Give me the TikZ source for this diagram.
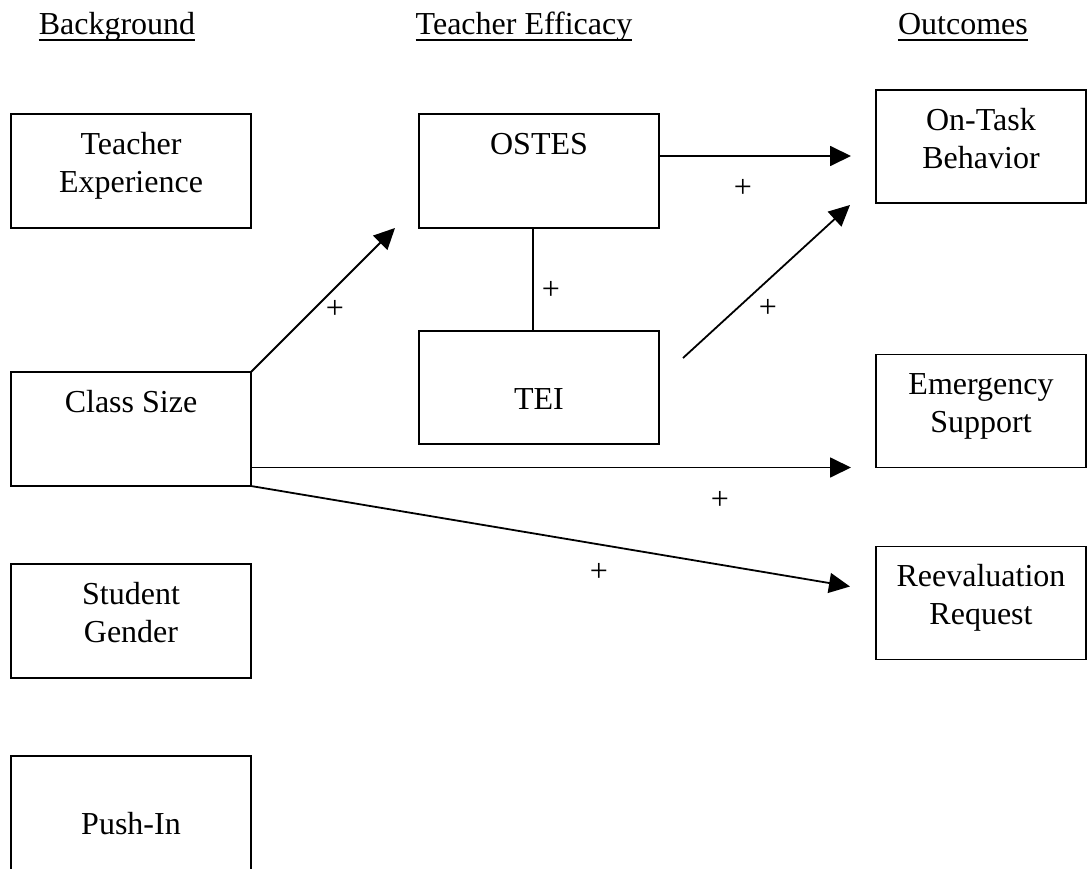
\documentclass[tikz,border=0pt]{standalone}
\usepackage{fontspec}
\setmainfont{Liberation Serif}
\usetikzlibrary{arrows.meta,calc}
\newcommand{\TT}{\rule{0pt}{24pt}}
\begin{document}
\begin{tikzpicture}[x=1pt,y=-1pt,
  every node/.style={font=\fontsize{32}{38}\selectfont},
  box/.style={draw, line width=1.8pt, minimum width=240pt, minimum height=114pt, inner sep=0pt, outer sep=0pt},
  rbox/.style={box, minimum width=210pt, minimum height=113pt},
  lab/.style={anchor=north, yshift=-16pt, inner sep=0pt, align=center},
  arr/.style={line width=1.8pt, -{Triangle[length=21pt,width=20pt]}},
  plain/.style={line width=1.8pt},
  plus/.style={inner sep=0pt},
  head/.style={anchor=base, inner sep=0pt},
  uline/.style={line width=2.4pt}]
\fill[white] (0,0) rectangle (1087,869);
\useasboundingbox (0,0) rectangle (1087,869);

% headings
\node[head] (hb) at (117,35) {Background};
\node[head] (ht) at (524,35) {Teacher Efficacy};
\node[head] (hout) at (963,35) {Outcomes};
\draw[uline] ($(hb.base west)+(0,5)$) -- ($(hb.base east)+(0,5)$);
\draw[uline] ($(ht.base west)+(0,5)$) -- ($(ht.base east)+(0,5)$);
\draw[uline] ($(hout.base west)+(0,5)$) -- ($(hout.base east)+(0,5)$);

% background boxes
\node[box, label={[lab]north:{\TT Teacher\\Experience}}] (te) at (131,171) {};
\node[box, label={[lab]north:{\TT Class Size}}] (cs) at (131,429) {};
\node[box, label={[lab]north:{\TT Student\\Gender}}] (sg) at (131,621) {};
\node[box, label={[lab]north:{\TT\\Push-In}}] (pi) at (131,813) {};

% teacher efficacy boxes
\node[box, label={[lab]north:{\TT OSTES}}] (os) at (539,171) {};
\node[box, minimum height=113pt, label={[lab]north:{\TT\\TEI}}] (tei) at (539,387.5) {};

% outcome boxes
\node[rbox, label={[lab]north:{\TT On-Task\\Behavior}}] (ot) at (981,146.5) {};
\node[rbox, label={[lab]north:{\TT Emergency\\Support}}] (es) at (981,411) {};
\node[rbox, label={[lab]north:{\TT Reevaluation\\Request}}] (rr) at (981,603) {};

% connectors
\draw[arr] (cs.north east) -- ($(os.south west)+(-24,0)$);
\draw[arr] ($(os.north east)+(0,42)$) -- ($(ot.north west)+(-25,66)$);
\draw[plain] ($(os.south)+(-6,0)$) -- ($(tei.north)+(-6,0)$);
\draw[arr] ($(tei.north east)+(24,27)$) -- ($(ot.south west)+(-26,2)$);
\draw[arr] (cs.east |- es.south west) -- ($(es.south west)+(-25,0)$);
\draw[arr] (cs.south east) -- ($(rr.north west)+(-26,40)$);

% signs
\node[plus] (p1) at (335,309) {+};
\node[plus] (p2) at (551,290) {+};
\node[plus] (p3) at (743,188) {+};
\node[plus] (p4) at (768,308) {+};
\node[plus] (p5) at (720,500) {+};
\node[plus] (p6) at (599,572) {+};
\end{tikzpicture}
\end{document}
